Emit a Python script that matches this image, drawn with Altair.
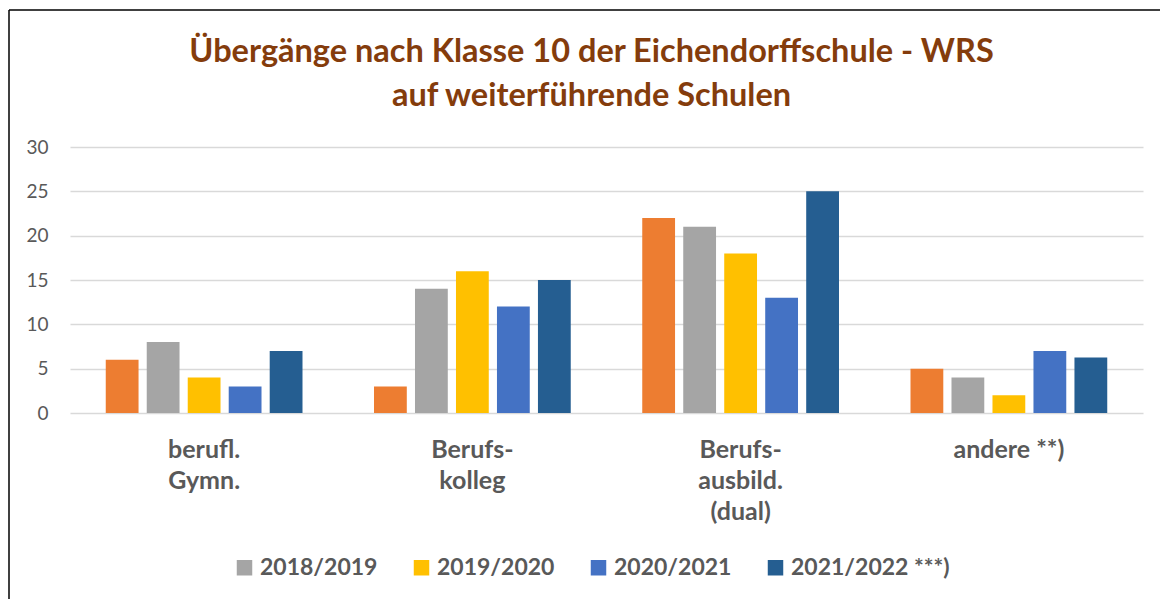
import altair as alt
import pandas as pd

title_lines = ["Übergänge nach Klasse 10 der Eichendorffschule - WRS", "auf weiterführende Schulen"]
categories = ["berufl.|Gymn.", "Berufs-|kolleg", "Berufs-|ausbild.|(dual)", "andere **)"]
series = ["2017/2018", "2018/2019", "2019/2020", "2020/2021", "2021/2022 ***)"]
colors = ["#ED7D31", "#A5A5A5", "#FFC000", "#4472C4", "#255E91"]
values = {
    "2017/2018": [6, 3, 22, 5],
    "2018/2019": [8, 14, 21, 4],
    "2019/2020": [4, 16, 18, 2],
    "2020/2021": [3, 12, 13, 7],
    "2021/2022 ***)": [7, 15, 25, 6.25],
}
legend_series = series[1:]
y_ticks = [0, 5, 10, 15, 20, 25, 30]

rows = []
for s in series:
    for c, v in zip(categories, values[s]):
        rows.append({"Kategorie": c, "Jahr": s, "Wert": v})
df = pd.DataFrame(rows)

TXT = "#595959"

bars = alt.Chart(df).mark_bar().encode(
    x=alt.X("Kategorie:N", sort=categories,
            scale=alt.Scale(paddingInner=0.236, paddingOuter=0.118),
            axis=alt.Axis(title=None, labelAngle=0, domain=False, ticks=False, tickSize=0,
                          labelExpr="split(datum.label, '|')",
                          labelFont="Lato", labelFontSize=25, labelFontWeight="bold",
                          labelColor=TXT, labelLineHeight=31, labelPadding=24)),
    xOffset=alt.XOffset("Jahr:N", sort=series,
                        scale=alt.Scale(paddingInner=0.2, paddingOuter=0.1)),
    y=alt.Y("Wert:Q", scale=alt.Scale(domain=[0, 30], nice=False),
            axis=alt.Axis(title=None, values=y_ticks, domain=False, ticks=False, tickSize=0,
                          labelFont="Lato", labelFontSize=19, labelColor=TXT,
                          labelPadding=22, gridColor="#d9d9d9", gridWidth=1.5)),
    color=alt.Color("Jahr:N", sort=series,
                    scale=alt.Scale(domain=series, range=colors),
                    legend=alt.Legend(values=legend_series, title=None, orient="none",
                                      direction="horizontal", columns=4,
                                      legendX=163, legendY=409,
                                      symbolType="square", symbolSize=240,
                                      symbolStrokeWidth=0, labelOffset=4,
                                      columnPadding=32,
                                      labelFont="Lato", labelFontSize=23,
                                      labelFontWeight="bold", labelColor=TXT)),
)

one = alt.Data(values=[{}])
title = alt.Chart(one).mark_text(
    text=title_lines, font="Lato", fontSize=32.5, fontWeight="bold", color="#843C0C",
    align="center", baseline="alphabetic", lineHeight=44,
).encode(x=alt.value(521.5), y=alt.value(-85))
frame_left = alt.Chart(one).mark_rule(color="black", strokeWidth=1.5).encode(
    x=alt.value(-61), y=alt.value(-137), y2=alt.value(460))
frame_top = alt.Chart(one).mark_rule(color="black", strokeWidth=1.5).encode(
    x=alt.value(-61), x2=alt.value(1100), y=alt.value(-137))

chart = alt.layer(bars, title, frame_left, frame_top).properties(
    width=1073, height=266,
    autosize=alt.AutoSizeParams(type="none"),
    padding={"left": 70, "top": 147, "right": 17, "bottom": 186},
    background="white",
).configure_view(stroke=None)

chart.save("out.html", embed_options={"renderer": "svg", "actions": False})
